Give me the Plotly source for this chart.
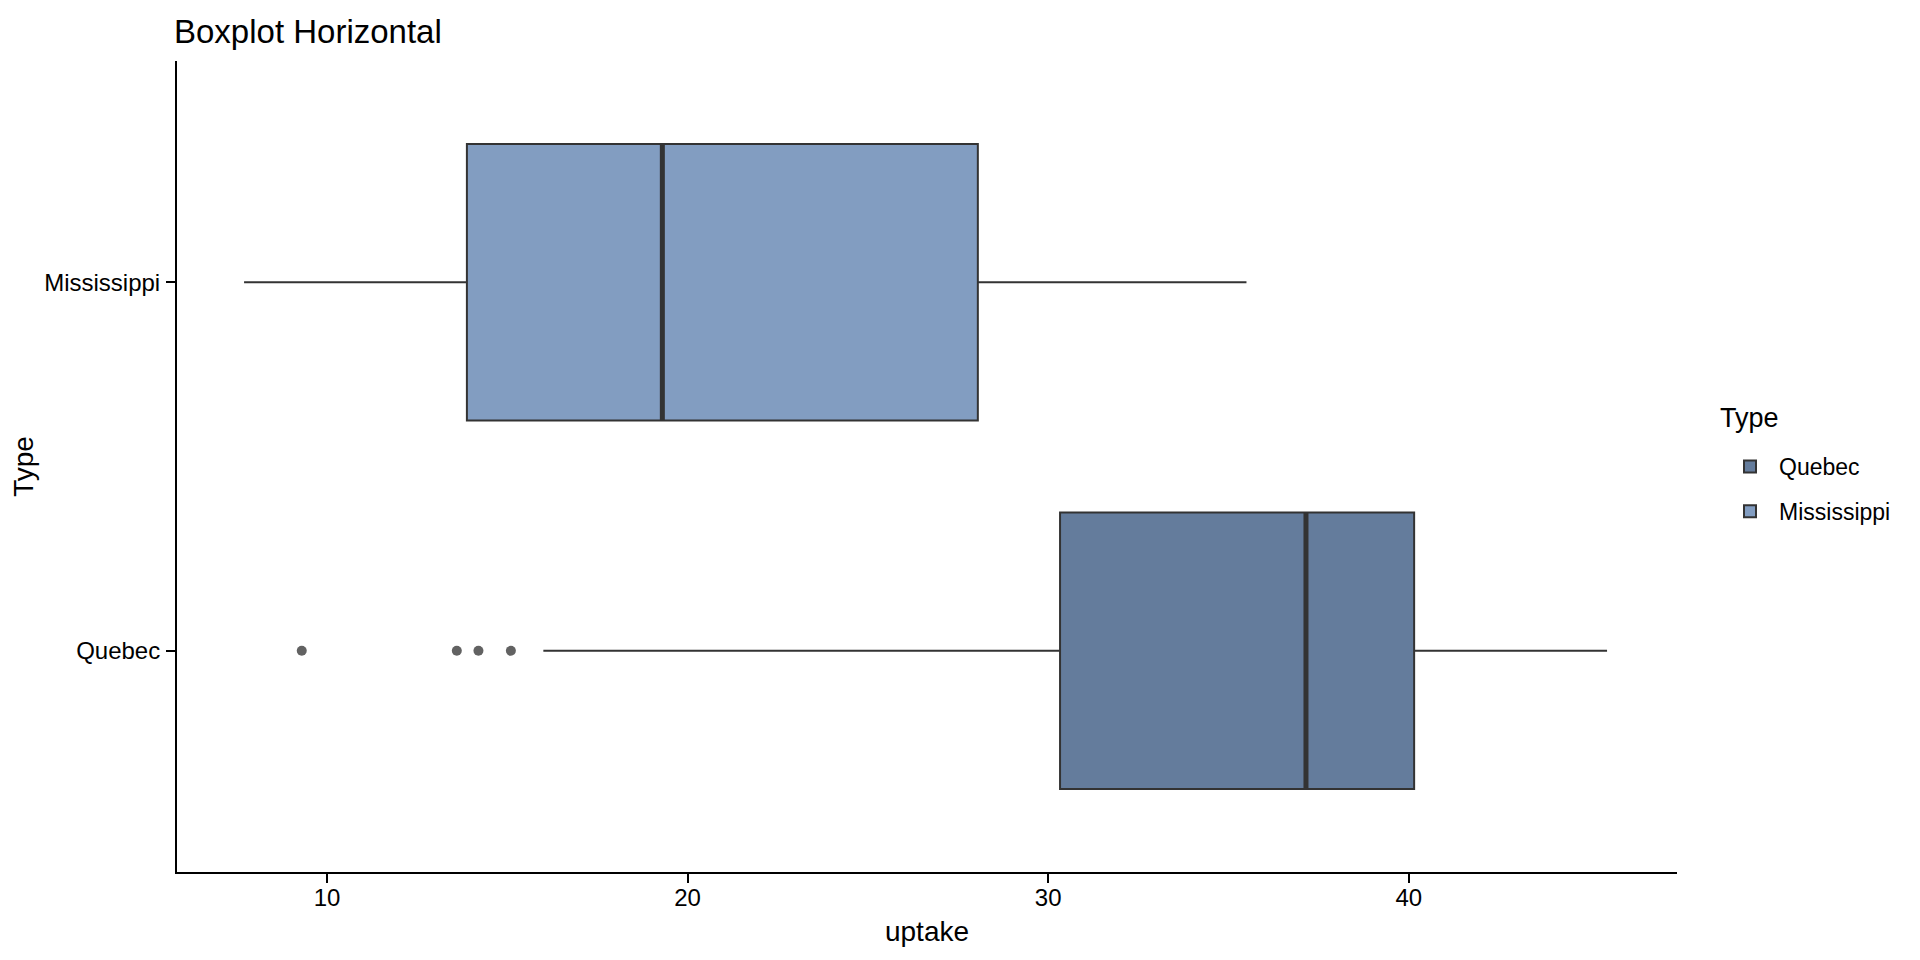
import plotly.graph_objects as go

# Data
types = ["Quebec", "Mississippi"]
lower_whisker = [16.0, 7.7]
q1_vals = [30.33, 13.88]
median_vals = [37.15, 19.3]
q3_vals = [40.15, 28.05]
upper_whisker = [45.5, 35.5]
outlier_type = ["Quebec", "Quebec", "Quebec", "Quebec"]
outlier_uptake = [9.3, 13.6, 14.2, 15.1]

fill_colors = {"Quebec": "#647C9C", "Mississippi": "#829DC1"}
line_color = "#333333"
box_width = 0.75
FONT = "Liberation Sans, Arial, sans-serif"

L, R, T, B = 169, 251, 53, 96
PW, PH = 1920 - L - R, 960 - T - B

pos = {t: i for i, t in enumerate(types)}

fig = go.Figure()
for i, t in enumerate(types):
    fig.add_trace(go.Box(
        name=t,
        legendgroup=t,
        y=[pos[t]],
        orientation="h",
        q1=[q1_vals[i]], median=[median_vals[i]], q3=[q3_vals[i]],
        lowerfence=[lower_whisker[i]], upperfence=[upper_whisker[i]],
        fillcolor=fill_colors[t],
        line=dict(color=line_color, width=2),
        width=box_width,
        whiskerwidth=0,
        boxpoints=False,
        showlegend=True,
    ))

fig.add_trace(go.Scatter(
    x=outlier_uptake,
    y=[pos[t] for t in outlier_type],
    mode="markers",
    marker=dict(color="#626262", size=10, line=dict(width=0)),
    showlegend=False,
    hoverinfo="x",
))

for i, t in enumerate(types):
    fig.add_shape(type="line", xref="x", yref="y",
                  x0=median_vals[i], x1=median_vals[i],
                  y0=pos[t] - box_width / 2, y1=pos[t] + box_width / 2,
                  line=dict(color=line_color, width=5))

# legend title as text
fig.add_annotation(text="Type", xref="paper", yref="paper",
                   x=(1710 - L) / PW, y=(960 - B - 410) / PH,
                   xanchor="left", yanchor="middle", showarrow=False,
                   font=dict(size=27, family=FONT, color="black"))

fig.update_layout(
    width=1920, height=960,
    paper_bgcolor="white", plot_bgcolor="white",
    font=dict(family=FONT, color="black", size=24),
    margin=dict(l=L, r=R, t=T, b=B, autoexpand=False),
    title=dict(text="Boxplot Horizontal", x=166 / 1920, xanchor="left",
               y=1 - 23 / 960, yanchor="middle",
               font=dict(size=33, family=FONT, color="black")),
    boxmode="overlay",
    legend=dict(
        font=dict(size=23, family=FONT),
        x=(1713 - L) / PW, xanchor="left",
        y=(960 - B - 437) / PH, yanchor="top",
        traceorder="grouped", tracegroupgap=12,
        itemwidth=48,
        bgcolor="rgba(0,0,0,0)",
    ),
    showlegend=True,
)

fig.update_xaxes(
    range=[5.84, 47.44],
    tickvals=[10, 20, 30, 40],
    ticks="outside", ticklen=9, tickwidth=1.5, tickcolor="black",
    showline=True, linecolor="black", linewidth=2,
    showgrid=False, zeroline=False, automargin=False,
    tickfont=dict(size=24, color="black"),
    ticklabelstandoff=-6,
    title=dict(text="uptake", font=dict(size=28), standoff=12),
)
fig.update_yaxes(
    range=[-0.6, 1.6],
    tickvals=[pos[t] for t in types], ticktext=types,
    ticks="outside", ticklen=9, tickwidth=1.5, tickcolor="black",
    showline=True, linecolor="black", linewidth=2,
    showgrid=False, zeroline=False, automargin=False,
    tickfont=dict(size=24, color="black"),
    ticklabelstandoff=1,
    title=dict(text="Type", font=dict(size=28), standoff=4),
)

fig.write_html("out.html")
